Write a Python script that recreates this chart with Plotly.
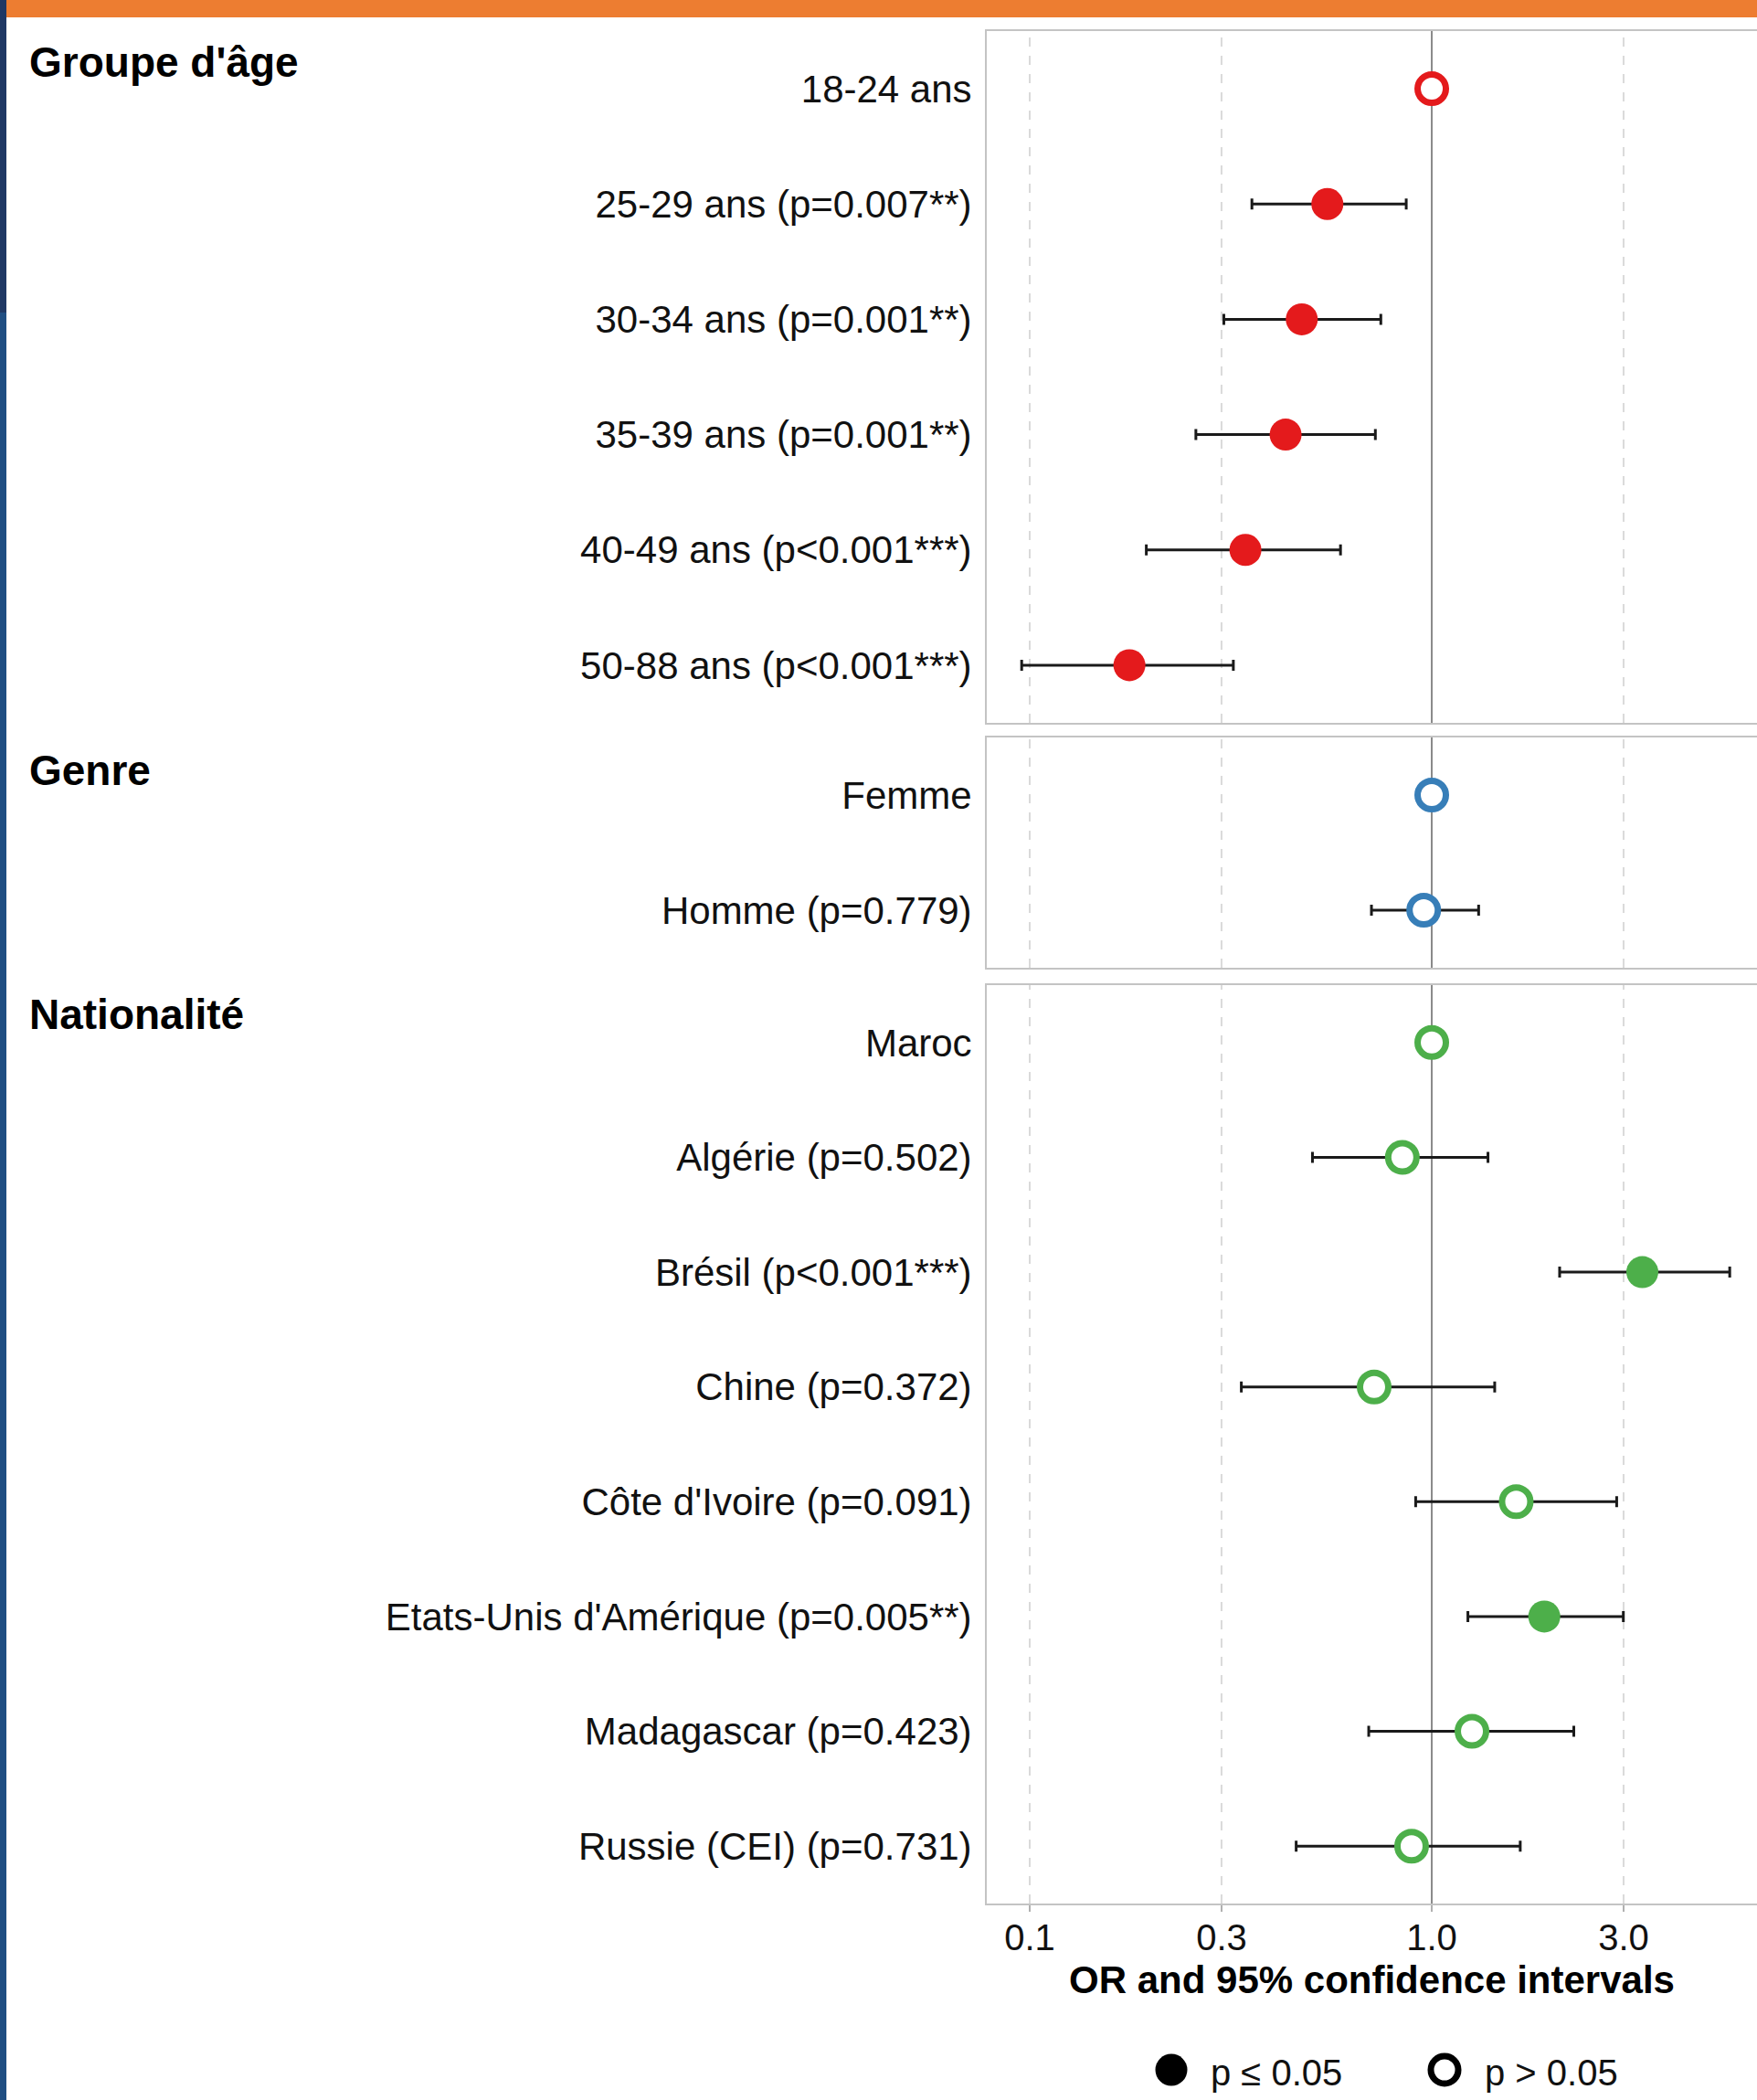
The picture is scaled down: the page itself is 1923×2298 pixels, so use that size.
import plotly.graph_objects as go

W, H = 1923, 2298

# ---------------- data ----------------
age_cats = ["18-24 ans", "25-29 ans", "30-34 ans", "35-39 ans", "40-49 ans", "50-88 ans"]
age_ptxt = ["", "p=0.007**", "p=0.001**", "p=0.001**", "p<0.001***", "p<0.001***"]
age_sig = [False, True, True, True, True, True]
age_or = [1.0, 0.55, 0.475, 0.433, 0.344, 0.177]
age_lo = [None, 0.357, 0.304, 0.259, 0.195, 0.0955]
age_hi = [None, 0.864, 0.747, 0.724, 0.593, 0.321]

genre_cats = ["Femme", "Homme"]
genre_ptxt = ["", "p=0.779"]
genre_sig = [False, False]
genre_or = [1.0, 0.955]
genre_lo = [None, 0.708]
genre_hi = [None, 1.308]

nat_cats = ["Maroc", "Algérie", "Brésil", "Chine", "Côte d'Ivoire",
            "Etats-Unis d'Amérique", "Madagascar", "Russie (CEI)"]
nat_ptxt = ["", "p=0.502", "p<0.001***", "p=0.372", "p=0.091", "p=0.005**", "p=0.423", "p=0.731"]
nat_sig = [False, False, True, False, False, True, False, False]
nat_or = [1.0, 0.845, 3.34, 0.719, 1.622, 1.905, 1.259, 0.891]
nat_lo = [None, 0.505, 2.08, 0.336, 0.912, 1.23, 0.697, 0.46]
nat_hi = [None, 1.38, 5.51, 1.434, 2.884, 2.996, 2.256, 1.66]

group_names = ["Groupe d'âge", "Genre", "Nationalité"]
group_colors = ["#E41A1C", "#377EB8", "#4DAF4A"]

x_tickvals = [0.1, 0.3, 1.0, 3.0]
x_ticktext = ["0.1", "0.3", "1.0", "3.0"]
ref_value = 1.0
x_title = "OR and 95% confidence intervals"
legend_labels = ["p ≤ 0.05", "p > 0.05"]

# ---------------- layout helpers ----------------
FONT = "Liberation Sans, Arial, sans-serif"
def py(p):  # pixel (from top) -> paper
    return 1 - p / H
def px(p):
    return p / W

panels = [(34, 791), (807, 1059), (1078, 2083)]
x_left = 1080
x_range = [-1.1068, 0.809]
frame_col = "#c4c4c4"

groups = [
    (age_cats, age_ptxt, age_sig, age_or, age_lo, age_hi),
    (genre_cats, genre_ptxt, genre_sig, genre_or, genre_lo, genre_hi),
    (nat_cats, nat_ptxt, nat_sig, nat_or, nat_lo, nat_hi),
]

fig = go.Figure()
shapes = []
annotations = []
layout_axes = {}
header_centers = [68, 843, 1110]

for gi, (cats, ptxt, sig, orv, lo, hi) in enumerate(groups):
    sfx = "" if gi == 0 else str(gi + 1)
    col = group_colors[gi]
    labels = [c if p == "" else f"{c} ({p})" for c, p in zip(cats, ptxt)]
    eplus = [0 if h is None else h - o for h, o in zip(hi, orv)]
    eminus = [0 if l is None else o - l for l, o in zip(lo, orv)]
    fig.add_trace(go.Scatter(
        x=orv, y=labels, mode="markers",
        xaxis="x" + sfx, yaxis="y" + sfx, showlegend=False,
        error_x=dict(type="data", symmetric=False, array=eplus, arrayminus=eminus,
                     color="#1a1a1a", thickness=3, width=6),
        marker=dict(
            color=[col if s else "white" for s in sig],
            size=[35 if s else 31 for s in sig],
            opacity=1,
            line=dict(color=col, width=[0 if s else 7 for s in sig]),
        ),
    ))
    top, bot = panels[gi]
    n = len(cats)
    is_bottom = gi == len(groups) - 1
    layout_axes["xaxis" + sfx] = dict(
        type="log", range=x_range, domain=[px(x_left), 1],
        anchor="y" + sfx,
        tickvals=x_tickvals, ticktext=x_ticktext,
        showgrid=False,
        showline=True, linecolor=frame_col, linewidth=2, mirror=True,
        zeroline=False,
        showticklabels=is_bottom,
        ticks="outside" if is_bottom else "", ticklen=7, tickwidth=2, tickcolor="#b0b0b0",
        tickfont=dict(family=FONT, size=40, color="#111"),
        ticklabelstandoff=-6,
        title=dict(text=f"<b>{x_title}</b>", font=dict(family=FONT, size=42, color="#000"),
                   standoff=11) if is_bottom else None,
        automargin=False, fixedrange=True,
    )
    layout_axes["yaxis" + sfx] = dict(
        type="category", categoryarray=labels, categoryorder="array",
        range=[n - 0.5, -0.5], domain=[py(bot), py(top)],
        anchor="x" + sfx,
        showgrid=False, zeroline=False,
        showline=True, linecolor=frame_col, linewidth=2, mirror=False,
        ticks="", ticklabelstandoff=6,
        tickfont=dict(family=FONT, size=42, color="#111"),
        automargin=False, fixedrange=True,
    )
    # vertical guide lines: dashed grid at ticks, solid reference at OR = 1
    for v in x_tickvals:
        is_ref = v == ref_value
        shapes.append(dict(type="line", xref="x" + sfx, yref=("y" + sfx) + " domain",
                           x0=v, x1=v, y0=0, y1=1, layer="below",
                           line=dict(color="#8a8a8a" if is_ref else "#dadada", width=2,
                                     dash="solid" if is_ref else "10px,10px")))
    # group header
    annotations.append(dict(text=f"<b>{group_names[gi]}</b>", xref="paper", yref="paper",
                            x=px(30), y=py(header_centers[gi]), xanchor="left", yanchor="middle",
                            showarrow=False, font=dict(family=FONT, size=46, color="#000")))

# ---------------- legend (manual, large symbols) ----------------
fig.add_trace(go.Scatter(
    x=[1282, 1581], y=[0.5, 0.5], mode="markers", xaxis="x4", yaxis="y4", showlegend=False,
    marker=dict(color=["black", "white"], size=[35, 30], opacity=1,
                line=dict(color="black", width=[0, 7])),
    hoverinfo="skip",
))
layout_axes["xaxis4"] = dict(range=[0, W], domain=[0, 1], anchor="y4", visible=False, fixedrange=True)
layout_axes["yaxis4"] = dict(range=[0, 1], domain=[py(2290), py(2240)], anchor="x4", visible=False, fixedrange=True)
for lx, lab in zip([1323, 1623], legend_labels):
    annotations.append(dict(text=lab, xref="paper", yref="paper", x=px(lx), y=py(2268),
                            xanchor="left", yanchor="middle", showarrow=False,
                            font=dict(family=FONT, size=40, color="#111")))

# ---------------- decoration: slide borders ----------------
shapes.append(dict(type="rect", xref="paper", yref="paper", x0=0, x1=1, y0=py(19), y1=1,
                   fillcolor="#ED7D31", line=dict(width=0), layer="above"))
shapes.append(dict(type="rect", xref="paper", yref="paper", x0=0, x1=px(7), y0=py(342), y1=1,
                   fillcolor="#1F3864", line=dict(width=0), layer="above"))
shapes.append(dict(type="rect", xref="paper", yref="paper", x0=0, x1=px(7), y0=0, y1=py(342),
                   fillcolor="#1F4E82", line=dict(width=0), layer="above"))

fig.update_layout(
    width=W, height=H, autosize=False,
    margin=dict(l=0, r=0, t=0, b=0, pad=0),
    paper_bgcolor="white", plot_bgcolor="white",
    showlegend=False,
    shapes=shapes, annotations=annotations,
    font=dict(family=FONT),
    **layout_axes,
)

fig.write_html("out.html",
               config={"displayModeBar": False, "staticPlot": True},
               post_script="document.body.style.margin='0';document.body.style.padding='0';")
